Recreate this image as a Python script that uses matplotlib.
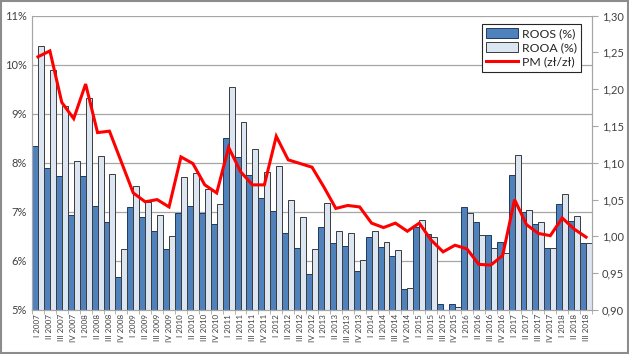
import matplotlib
matplotlib.use("Agg")
import matplotlib.pyplot as plt
from matplotlib.lines import Line2D
from matplotlib.patches import Patch, Rectangle
from matplotlib.ticker import FuncFormatter, FixedLocator
import numpy as np

plt.rcParams['font.family'] = ['Lato', 'DejaVu Sans']

# quarters I 2007 .. III 2018
quarters = [f"{q} {y}" for y in range(2007, 2019) for q in ["I", "II", "III", "IV"]][:47]

roos = [8.34, 7.90, 7.73, 6.93, 7.73, 7.11, 6.79, 5.68, 7.10, 6.89, 6.61, 6.25,
        6.97, 7.12, 6.97, 6.76, 8.50, 8.11, 7.75, 7.29, 7.01, 6.57, 6.27, 5.73,
        6.70, 6.36, 6.30, 5.79, 6.49, 6.28, 6.11, 5.42, 6.70, 6.54, 5.12, 5.12,
        7.10, 6.79, 6.53, 6.38, 7.76, 6.99, 6.76, 6.27, 7.17, 6.82, 6.36]
rooa = [10.37, 9.90, 9.15, 8.03, 9.33, 8.13, 7.77, 6.24, 7.52, 7.20, 6.93, 6.50,
        7.72, 7.80, 7.46, 7.16, 9.54, 8.84, 8.29, 7.82, 7.94, 7.25, 6.89, 6.25,
        7.18, 6.60, 6.57, 6.01, 6.61, 6.38, 6.22, 5.45, 6.84, 6.49, 4.98, 5.06,
        6.98, 6.53, 6.27, 6.17, 8.15, 7.04, 6.79, 6.27, 7.36, 6.91, 6.36]
pm = [1.244, 1.252, 1.182, 1.160, 1.207, 1.141, 1.143, 1.101, 1.059, 1.047, 1.050, 1.040,
      1.108, 1.099, 1.070, 1.059, 1.121, 1.088, 1.070, 1.070, 1.136, 1.104, 1.099, 1.094,
      1.067, 1.038, 1.042, 1.040, 1.018, 1.012, 1.018, 1.007, 1.018, 0.995, 0.979, 0.988,
      0.983, 0.962, 0.961, 0.974, 1.050, 1.016, 1.004, 1.001, 1.025, 1.010, 0.999]

c_roos = '#4F81BD'
c_rooa = '#DCE6F2'
c_pm = '#FF0000'
grid_c = '#A6A6A6'
txt_c = '#404040'

fig = plt.figure(figsize=(6.29, 3.54), dpi=100)
ax = fig.add_axes([0.0509, 0.1243, 0.8903, 0.8317])
x = np.arange(len(quarters))

ax.bar(x - 0.25, roos, width=0.5, color=c_roos, edgecolor='#1F3A60', linewidth=0.7)
ax.bar(x + 0.25, rooa, width=0.5, color=c_rooa, edgecolor='#3B3B3B', linewidth=0.7)

ax.set_xlim(-0.5, len(quarters) - 0.5)
ax.set_ylim(5, 11)
ax.set_yticks(range(5, 12))
ax.yaxis.set_major_formatter(FuncFormatter(lambda v, p: f"{v:.0f}%"))
ax.grid(axis='y', color=grid_c, linewidth=0.9)
ax.set_axisbelow(True)
ax.set_xticks(x)
ax.set_xticklabels(quarters, rotation=90, fontsize=5.8, color=txt_c)
ax.tick_params(axis='x', length=0, pad=3)
ax.xaxis.set_minor_locator(FixedLocator(np.arange(-0.5, len(quarters), 1)))
ax.tick_params(axis='x', which='minor', length=3, color=grid_c)
ax.tick_params(axis='y', labelsize=8, colors=txt_c, length=0, pad=4)
ax.spines['top'].set_visible(False)
for s in ['left', 'bottom', 'right']:
    ax.spines[s].set_color(grid_c)

ax2 = ax.twinx()
ax2.plot(x, pm, color=c_pm, linewidth=2.2, solid_joinstyle='miter')
ax2.set_ylim(0.90, 1.30)
ax2.set_yticks(np.arange(0.90, 1.301, 0.05))
ax2.yaxis.set_major_formatter(FuncFormatter(lambda v, p: f"{v:.2f}".replace('.', ',')))
ax2.tick_params(axis='y', labelsize=8, colors=txt_c, length=4, pad=3)
ax2.tick_params(axis='y', color=grid_c)
ax2.spines['top'].set_visible(False)
for s in ['left', 'bottom', 'right']:
    ax2.spines[s].set_color(grid_c)

handles = [Patch(facecolor=c_roos, edgecolor='#1F3A60', linewidth=0.7),
           Patch(facecolor=c_rooa, edgecolor='#3B3B3B', linewidth=0.7),
           Line2D([0], [0], color=c_pm, linewidth=2.2)]
leg = ax2.legend(handles, ['ROOS (%)', 'ROOA (%)', 'PM (zł/zł)'],
                 loc='upper right', bbox_to_anchor=(0.98, 0.972),
                 fontsize=8.8, frameon=True, fancybox=False, framealpha=1,
                 handlelength=2.6, handleheight=0.9, labelspacing=0.22,
                 borderpad=0.35, handletextpad=0.3, borderaxespad=0)
leg.get_frame().set_edgecolor('#262626')
leg.get_frame().set_linewidth(0.8)
for t in leg.get_texts():
    t.set_color('#262626')

# grey border round the whole chart area
fig.patches.append(Rectangle((0.002, 0.003), 0.996, 0.994, transform=fig.transFigure,
                             fill=False, edgecolor='#8C8C8C', linewidth=1.5))

fig.savefig('out.png', dpi=100)
